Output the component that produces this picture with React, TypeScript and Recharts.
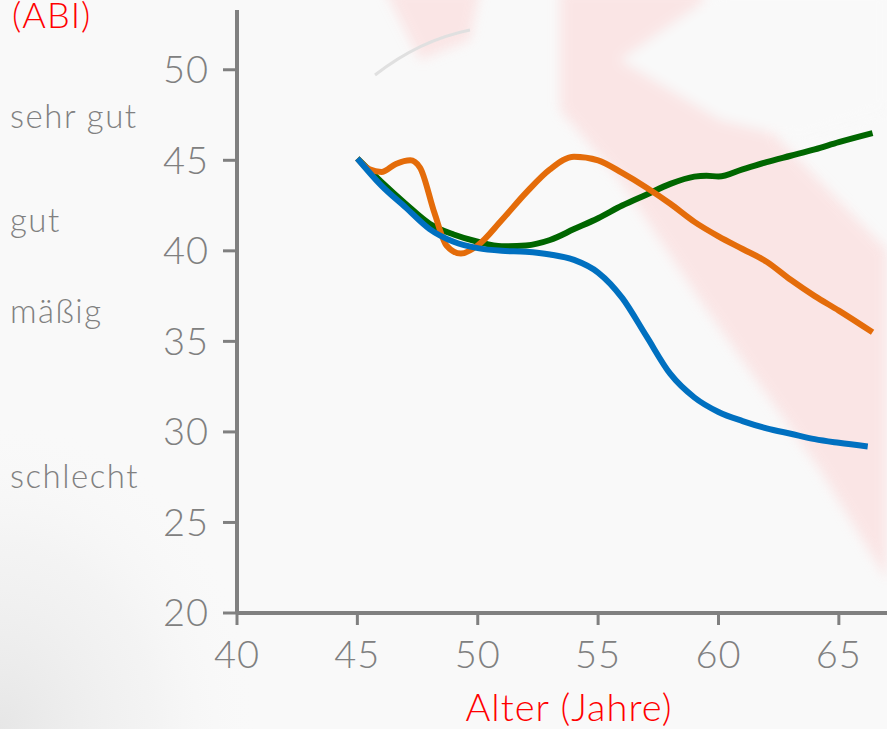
import React from "react";
import { LineChart, Line, XAxis, YAxis } from "recharts";

const xTicks = [40, 45, 50, 55, 60, 65];
const yTicks = [20, 25, 30, 35, 40, 45, 50];

const blueAges = [45, 46, 47, 48, 49, 50, 51, 52, 53, 54, 55, 56, 57, 58, 59, 60, 61, 62, 63, 64, 65, 66.2];
const blueValues = [45.1, 43.6, 42.4, 41.2, 40.5, 40.15, 40.0, 39.95, 39.8, 39.5, 38.8, 37.4, 35.3, 33.2, 31.9, 31.1, 30.6, 30.2, 29.9, 29.6, 29.4, 29.2];

const orangeAges = [45, 45.5, 46, 46.6, 47.2, 47.6, 48.2, 48.7, 49.3, 50, 51, 52, 53, 54, 55, 56, 57, 58, 59, 60, 61, 62, 63, 64, 65, 66.4];
const orangeValues = [45.1, 44.5, 44.35, 44.8, 45.0, 44.6, 42.1, 40.3, 39.85, 40.3, 41.7, 43.2, 44.5, 45.2, 45.0, 44.3, 43.5, 42.6, 41.6, 40.8, 40.1, 39.4, 38.4, 37.5, 36.7, 35.5];

const greenAges = [45, 46, 47, 48, 49, 50, 51, 52, 53, 54, 55, 56, 57, 58, 59, 59.5, 60, 61, 62, 63, 64, 65, 66.4];
const greenValues = [45.1, 43.8, 42.6, 41.5, 40.9, 40.5, 40.25, 40.3, 40.6, 41.2, 41.8, 42.5, 43.1, 43.7, 44.1, 44.15, 44.1, 44.5, 44.9, 45.25, 45.6, 46.0, 46.5];

const ratingLabels = ["sehr gut", "gut", "mäßig", "schlecht"];
const ratingBaselines = [128, 232, 323, 488];

const toSeries = (ages: number[], values: number[]) => ages.map((x, i) => ({ x, y: values[i] }));

const blueData = toSeries(blueAges, blueValues);
const orangeData = toSeries(orangeAges, orangeValues);
const greenData = toSeries(greenAges, greenValues);

const FONT = "Lato, 'Open Sans', sans-serif";
const GRAY = "#808080";

export default function App() {
  return (
    <div style={{ position: "absolute", left: 0, top: 0, width: 887, height: 729, background: "#f9f9f9", overflow: "hidden", fontFamily: FONT }}>
      <svg width={887} height={729} style={{ position: "absolute", left: 0, top: 0 }}>
        <defs>
          <radialGradient id="bez" cx="0" cy="1" r="1">
            <stop offset="0" stopColor="#e4e4e4" stopOpacity="0.9" />
            <stop offset="0.6" stopColor="#eeeeee" stopOpacity="0.5" />
            <stop offset="1" stopColor="#f9f9f9" stopOpacity="0" />
          </radialGradient>
          <filter id="soft" x="-10%" y="-10%" width="120%" height="120%">
            <feGaussianBlur stdDeviation="6" />
          </filter>
        </defs>
        <rect x={0} y={420} width={260} height={309} fill="url(#bez)" />
        <g filter="url(#soft)" opacity={0.8}>
          <polygon points="385,-10 480,-10 470,40 420,60" fill="#fbe1e1" />
          <polygon points="560,-10 700,-10 760,120 887,250 887,580 820,470 700,300 620,180 560,110" fill="#fbe1e1" />
          <polygon points="620,60 720,-10 887,-10 887,110 800,140 720,120" fill="#f9f9f9" />
        </g>
        <path d="M 375 75 Q 420 40 470 30" stroke="#e0e0e0" strokeWidth={3} fill="none" />
      </svg>
      <div style={{ position: "absolute", left: 0, top: 0 }}>
        <LineChart width={887} height={729} margin={{ top: 10, right: 0, bottom: 0, left: 0 }}>
          <XAxis
            dataKey="x"
            type="number"
            domain={[40, 67]}
            ticks={xTicks}
            allowDataOverflow
            height={116}
            axisLine={{ stroke: GRAY, strokeWidth: 4 }}
            tickLine={{ stroke: GRAY, strokeWidth: 3 }}
            tickSize={12}
            tickMargin={16}
            tick={{ fill: GRAY, fontSize: 38, fontFamily: FONT, fontWeight: 300, letterSpacing: 1 }}
            interval={0}
          />
          <YAxis
            type="number"
            domain={[20, 53.3]}
            ticks={yTicks}
            allowDataOverflow
            width={237}
            axisLine={{ stroke: GRAY, strokeWidth: 4 }}
            tickLine={{ stroke: GRAY, strokeWidth: 3 }}
            tickSize={14}
            tickMargin={14}
            tick={{ fill: GRAY, fontSize: 38, fontFamily: FONT, fontWeight: 300, letterSpacing: 1 }}
            interval={0}
          />
          <Line data={greenData} dataKey="y" type="monotone" stroke="#006600" strokeWidth={6} dot={false} isAnimationActive={false} />
          <Line data={orangeData} dataKey="y" type="monotone" stroke="#E46C0A" strokeWidth={6} dot={false} isAnimationActive={false} />
          <Line data={blueData} dataKey="y" type="monotone" stroke="#0070C0" strokeWidth={6} dot={false} isAnimationActive={false} />
        </LineChart>
      </div>
      <svg width={887} height={729} style={{ position: "absolute", left: 0, top: 0, pointerEvents: "none" }}>
        <text x={12} y={28} fill="#FF0000" fontSize={36} fontFamily={FONT} fontWeight={300} letterSpacing={1}>(ABI)</text>
        {ratingLabels.map((t, i) => (
          <text key={t} x={10} y={ratingBaselines[i]} fill={GRAY} fontSize={33} fontFamily={FONT} fontWeight={300} letterSpacing={1.5}>{t}</text>
        ))}
        <text x={569} y={721} textAnchor="middle" fill="#FF0000" fontSize={38} fontFamily={FONT} fontWeight={300} letterSpacing={1}>Alter (Jahre)</text>
      </svg>
    </div>
  );
}
